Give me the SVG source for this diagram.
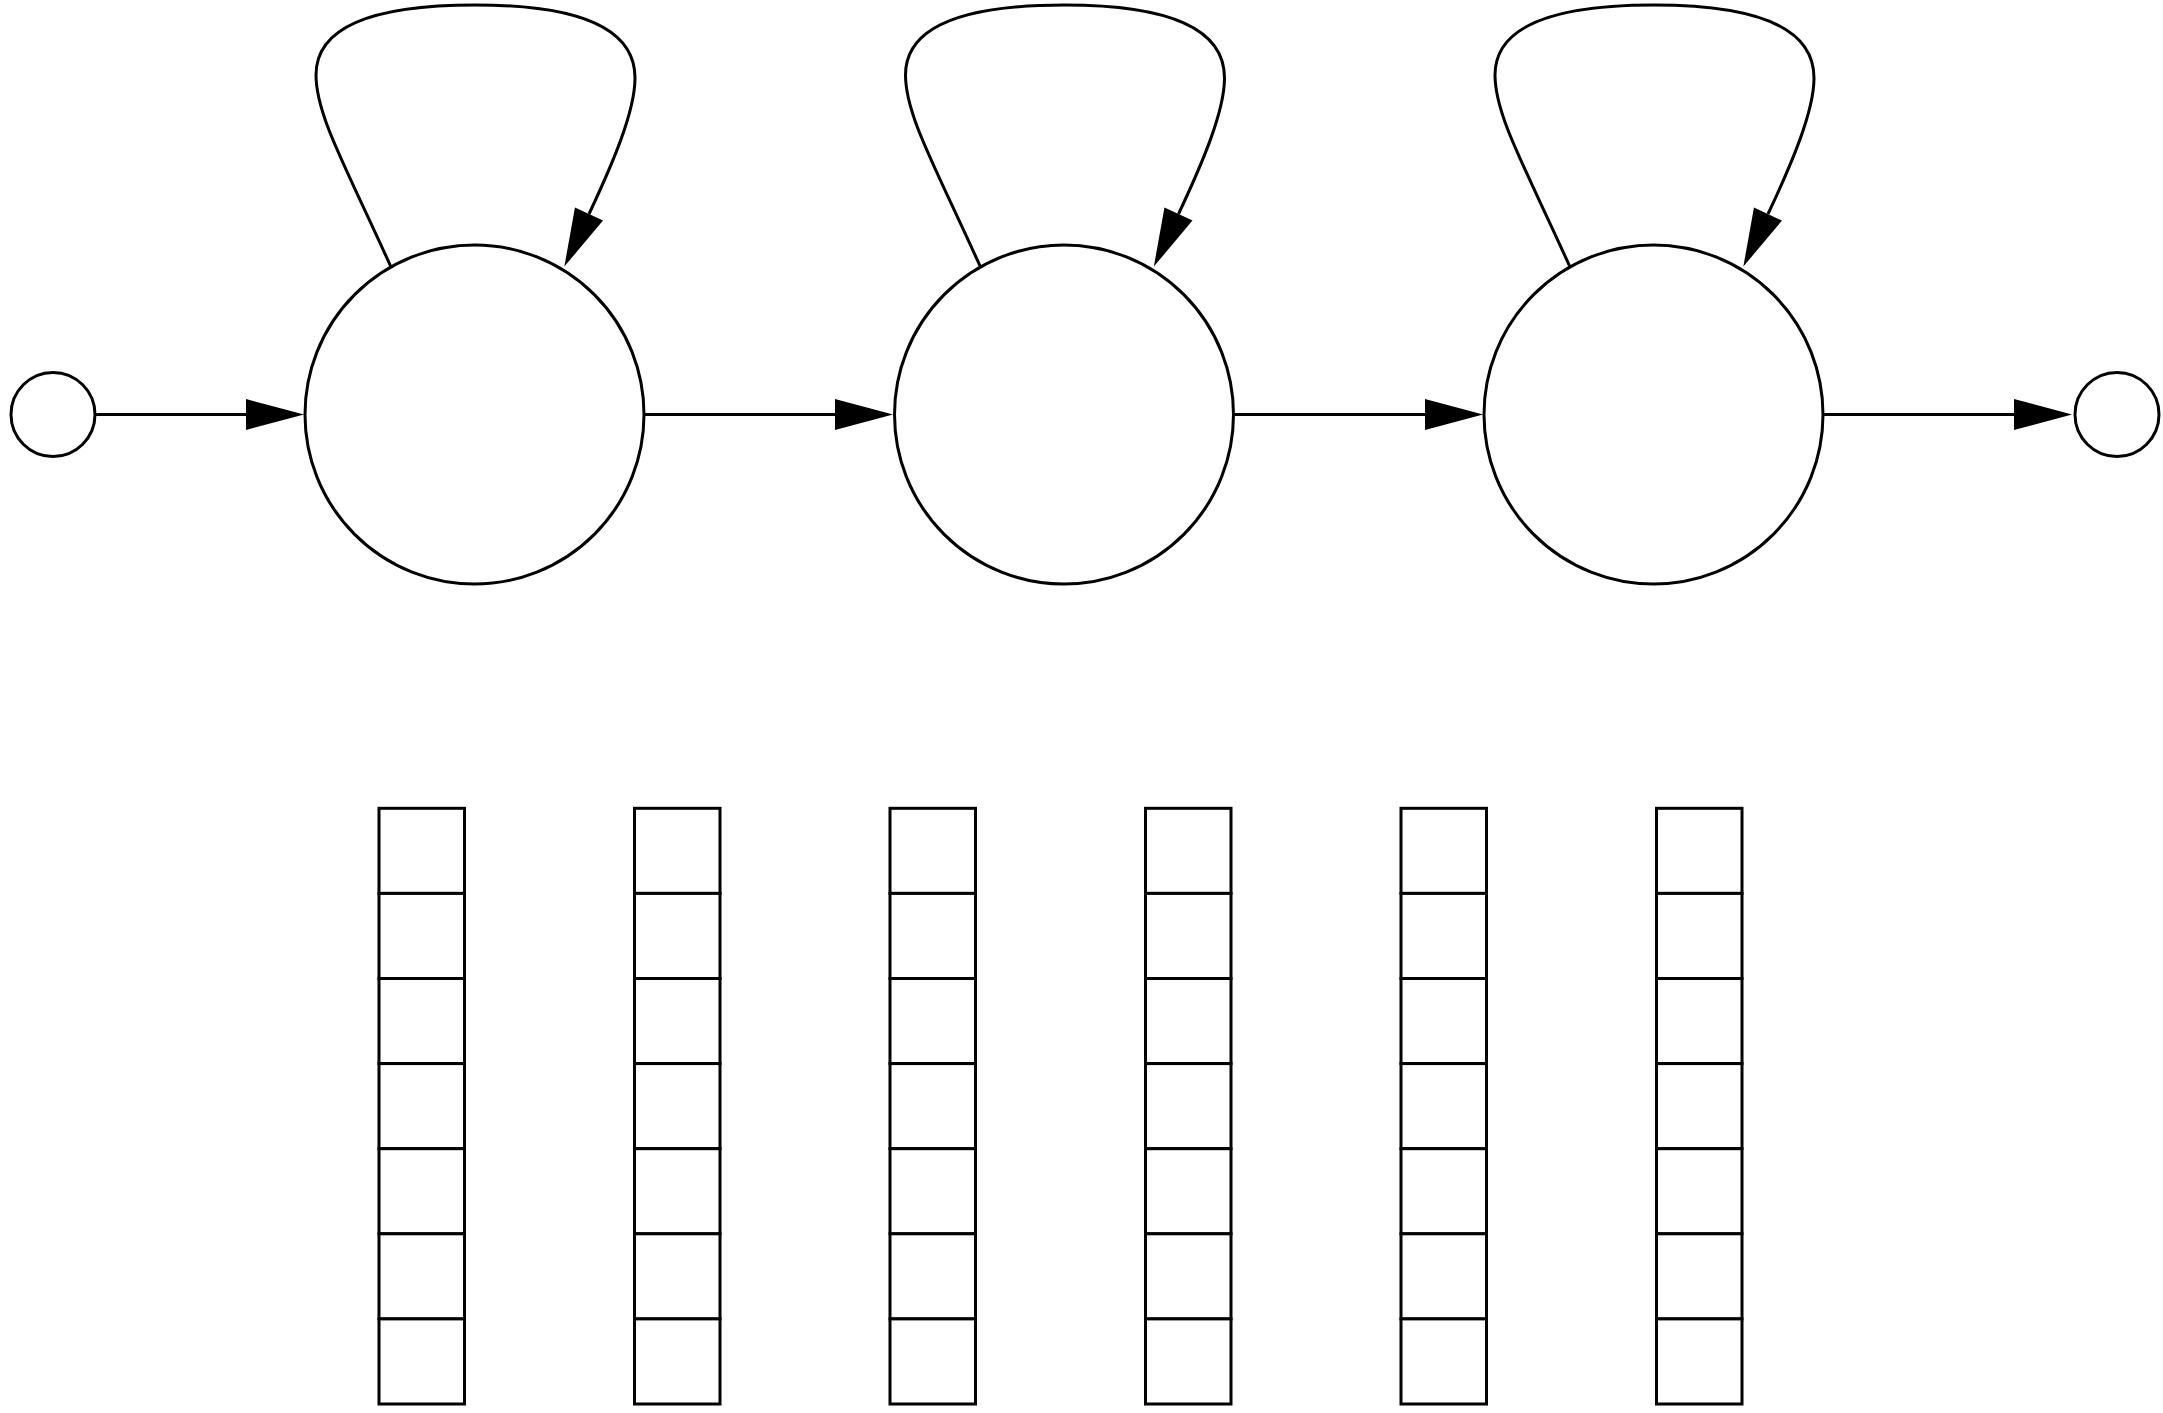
<svg xmlns="http://www.w3.org/2000/svg" width="2163" height="1413" viewBox="0 0 2163 1413">
  <style>
    .node { fill: #ffffff; stroke: #000000; stroke-width: 3; }
    .edge { fill: none; stroke: #000000; stroke-width: 3; }
    .cell { fill: #ffffff; stroke: #000000; stroke-width: 3; }
  </style>
  <defs>
    <marker id="arrow" viewBox="0 -16 58 32" refX="0" refY="0" markerWidth="58" markerHeight="32" markerUnits="userSpaceOnUse" orient="auto" overflow="visible">
      <path d="M0,-15.5 L58,0 L0,15.5 Z" fill="#000000"/>
    </marker>
    <!-- self loop drawn above a state centred at (0,0) -->
    <path id="selfloop" d="M-83.5,-147.5 C-129.5,-249.5 -158.5,-299.5 -158.5,-339.5 C-158.5,-394.5 -84.5,-409.5 0.5,-409.5 C85.5,-409.5 160.5,-394.5 160.5,-336.5 C160.5,-302.5 137.5,-249.5 114.5,-200.5"/>
    <!-- one column of seven cells -->
    <g id="column">
      <rect class="cell" x="0" y="0" width="85.5" height="85.1"/>
      <rect class="cell" x="0" y="85.1" width="85.5" height="85.1"/>
      <rect class="cell" x="0" y="170.2" width="85.5" height="85.1"/>
      <rect class="cell" x="0" y="255.3" width="85.5" height="85.1"/>
      <rect class="cell" x="0" y="340.4" width="85.5" height="85.1"/>
      <rect class="cell" x="0" y="425.5" width="85.5" height="85.1"/>
      <rect class="cell" x="0" y="510.6" width="85.5" height="85.1"/>
    </g>
  </defs>
  <rect x="0" y="0" width="2163" height="1413" fill="#ffffff"/>

  <!-- transitions -->
  <g id="edges">
    <line class="edge" x1="95.5" y1="414.5" x2="246" y2="414.5" marker-end="url(#arrow)"/>
    <line class="edge" x1="644" y1="414.5" x2="835" y2="414.5" marker-end="url(#arrow)"/>
    <line class="edge" x1="1233" y1="414.5" x2="1425" y2="414.5" marker-end="url(#arrow)"/>
    <line class="edge" x1="1823" y1="414.5" x2="2014" y2="414.5" marker-end="url(#arrow)"/>
    <use href="#selfloop" class="edge" transform="translate(474.5,414.5)" marker-end="url(#arrow)"/>
    <use href="#selfloop" class="edge" transform="translate(1064,414.5)" marker-end="url(#arrow)"/>
    <use href="#selfloop" class="edge" transform="translate(1653.5,414.5)" marker-end="url(#arrow)"/>
  </g>

  <!-- states -->
  <g id="start"><circle class="node" cx="53" cy="414.5" r="42"/></g>
  <g id="s1"><circle class="node" cx="474.5" cy="414.5" r="169.5"/></g>
  <g id="s2"><circle class="node" cx="1064" cy="414.5" r="169.5"/></g>
  <g id="s3"><circle class="node" cx="1653.5" cy="414.5" r="169.5"/></g>
  <g id="end"><circle class="node" cx="2117" cy="414.5" r="42"/></g>

  <!-- cell columns -->
  <g id="col1"><use href="#column" x="379" y="808.3"/></g>
  <g id="col2"><use href="#column" x="634.5" y="808.3"/></g>
  <g id="col3"><use href="#column" x="890" y="808.3"/></g>
  <g id="col4"><use href="#column" x="1145.5" y="808.3"/></g>
  <g id="col5"><use href="#column" x="1401" y="808.3"/></g>
  <g id="col6"><use href="#column" x="1656.5" y="808.3"/></g>
</svg>
